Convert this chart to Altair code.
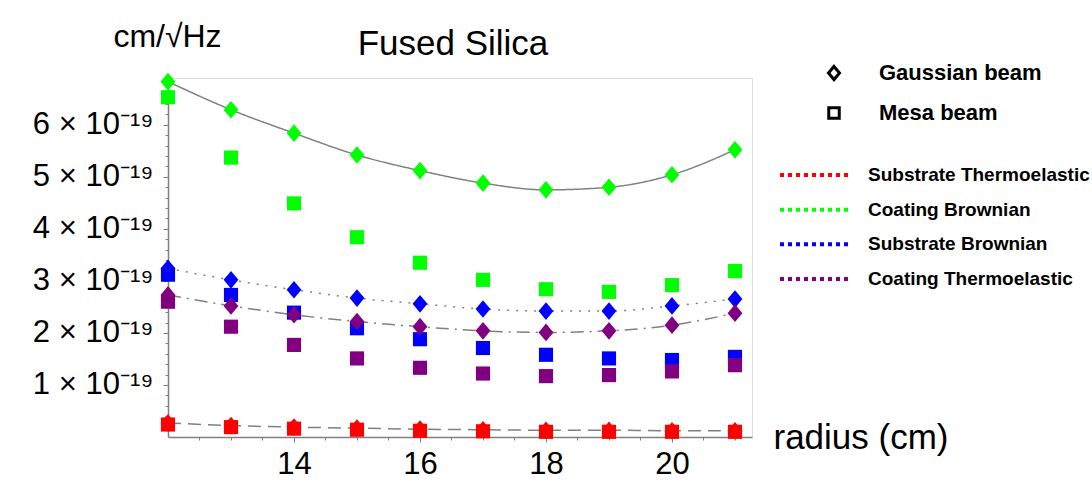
import altair as alt
import pandas as pd

# ---------------- data (noise values in units of 1e-19 cm/sqrt(Hz)) ----------------
radius = [12, 13, 14, 15, 16, 17, 18, 19, 20, 21]

components = ["Substrate Thermoelastic", "Coating Brownian",
              "Substrate Brownian", "Coating Thermoelastic"]
component_colors = ["#FF0000", "#00FF00", "#0000FF", "#800080"]
beams = ["Gaussian beam", "Mesa beam"]

sub_thermo_gauss = [0.27, 0.22, 0.19, 0.17, 0.15, 0.14, 0.13, 0.13, 0.12, 0.12]
sub_thermo_mesa = [0.24, 0.19, 0.16, 0.14, 0.12, 0.11, 0.10, 0.10, 0.10, 0.10]
coat_brown_gauss = [6.83, 6.29, 5.84, 5.42, 5.12, 4.88, 4.75, 4.80, 5.04, 5.52]
coat_brown_mesa = [6.53, 5.37, 4.49, 3.84, 3.35, 3.02, 2.84, 2.79, 2.92, 3.19]
sub_brown_gauss = [3.24, 3.02, 2.83, 2.67, 2.56, 2.46, 2.42, 2.42, 2.52, 2.65]
sub_brown_mesa = [3.12, 2.73, 2.39, 2.09, 1.88, 1.71, 1.58, 1.51, 1.48, 1.54]
coat_thermo_gauss = [2.73, 2.52, 2.35, 2.22, 2.12, 2.04, 2.01, 2.04, 2.15, 2.38]
coat_thermo_mesa = [2.60, 2.12, 1.77, 1.51, 1.33, 1.22, 1.17, 1.19, 1.26, 1.38]

x_major = [14, 16, 18, 20]
x_minor = [12.5, 13, 13.5, 14.5, 15, 15.5, 16.5, 17, 17.5, 18.5, 19, 19.5, 20.5, 21]
y_major = [1, 2, 3, 4, 5, 6]
y_minor = [0.2, 0.4, 0.6, 0.8, 1.2, 1.4, 1.6, 1.8, 2.2, 2.4, 2.6, 2.8, 3.2, 3.4, 3.6,
           3.8, 4.2, 4.4, 4.6, 4.8, 5.2, 5.4, 5.6, 5.8, 6.2, 6.4, 6.6, 6.8]

series = {
    ("Mesa beam", "Substrate Thermoelastic"): sub_thermo_mesa,
    ("Mesa beam", "Coating Brownian"): coat_brown_mesa,
    ("Mesa beam", "Substrate Brownian"): sub_brown_mesa,
    ("Mesa beam", "Coating Thermoelastic"): coat_thermo_mesa,
    ("Gaussian beam", "Substrate Thermoelastic"): sub_thermo_gauss,
    ("Gaussian beam", "Coating Brownian"): coat_brown_gauss,
    ("Gaussian beam", "Substrate Brownian"): sub_brown_gauss,
    ("Gaussian beam", "Coating Thermoelastic"): coat_thermo_gauss,
}

rows = []
k = 0
for (beam, comp), vals in series.items():
    for r, v in zip(radius, vals):
        rows.append({"radius": r, "noise": v, "component": comp, "beam": beam, "draw": k})
        k += 1
df = pd.DataFrame(rows)
legend_df = pd.DataFrame({"component": components})

FONT = "Liberation Sans"
GRAY = "#808080"
diamond_path = "M0,-1.25L1.05,0L0,1.25L-1.05,0Z"

x_scale = alt.Scale(domain=[12, 21.27], nice=False, zero=False)
y_scale = alt.Scale(domain=[0, 6.9], nice=False, zero=True)
color_scale = alt.Scale(domain=components, range=component_colors)

base = alt.Chart(df)

# gray fit curves through the Gaussian-beam points (carry the minor-tick axes)
lines = base.transform_filter(alt.datum.beam == "Gaussian beam").mark_line(
    color=GRAY, strokeWidth=1.5, interpolate="monotone"
).encode(
    x=alt.X("radius:Q", scale=x_scale,
            axis=alt.Axis(values=x_minor, labels=False, domain=False, tickSize=3,
                          title=None, grid=False, orient="bottom", tickColor=GRAY)),
    y=alt.Y("noise:Q", scale=y_scale,
            axis=alt.Axis(values=y_minor, labels=False, domain=False, tickSize=3,
                          title=None, grid=False, orient="left", tickColor=GRAY)),
    detail="component:N",
    strokeDash=alt.StrokeDash(
        "component:N",
        scale=alt.Scale(domain=components,
                        range=[[13, 7], [1, 0], [2, 7], [13, 6, 2, 6]]),
        legend=None),
)

points = base.mark_point(filled=True, opacity=1, size=200, strokeWidth=0).encode(
    x=alt.X("radius:Q", scale=x_scale,
            axis=alt.Axis(values=x_major, title="radius (cm)", grid=False,
                          labelFontSize=31, labelFont=FONT, labelColor="black",
                          labelPadding=7, tickSize=5, tickColor=GRAY,
                          domainColor=GRAY, domainWidth=1.5,
                          titleFont=FONT, titleFontSize=35, titleFontWeight="normal",
                          titleColor="black", titleX=605, titleY=0,
                          titleAlign="left", titleBaseline="middle", orient="bottom")),
    y=alt.Y("noise:Q", scale=y_scale,
            axis=alt.Axis(values=y_major, title="cm/√Hz", grid=False,
                          labelExpr="format(datum.value, 'd') + ' × 10⁻¹⁹'",
                          labelFontSize=31, labelFont=FONT, labelColor="black",
                          labelPadding=10, tickSize=5, tickColor=GRAY,
                          domainColor=GRAY, domainWidth=1.5,
                          titleFont=FONT, titleFontSize=32, titleFontWeight="normal",
                          titleColor="black", titleAngle=0, titleX=-1, titleY=-42,
                          titleAlign="center", titleBaseline="middle", orient="left")),
    color=alt.Color("component:N", scale=color_scale, legend=None),
    shape=alt.Shape(
        "beam:N",
        scale=alt.Scale(domain=beams, range=[diamond_path, "square"]),
        legend=alt.Legend(
            orient="none", legendX=655, legendY=-16, title=None,
            symbolSize=110, symbolFillColor="white", symbolStrokeColor="black",
            symbolStrokeWidth=3, labelFont=FONT, labelFontSize=22,
            labelFontWeight="bold", labelColor="black", labelLimit=400,
            labelOffset=34, rowPadding=15,
        ),
    ),
    order=alt.Order("draw:Q"),
)

# dotted-line colour key to the right of the plot
key_y = alt.Y("component:N", axis=None,
              scale=alt.Scale(type="point", domain=components, range=[97, 201], padding=0))

key_lines = alt.Chart(legend_df).mark_rule(strokeWidth=4, strokeDash=[4, 4]).encode(
    x=alt.value(612), x2=alt.value(681),
    y=key_y,
    color=alt.Color("component:N", scale=color_scale, legend=None),
)

key_text = alt.Chart(legend_df).mark_text(
    align="left", baseline="middle", font=FONT, fontSize=19, fontWeight="bold",
    color="black"
).encode(
    x=alt.value(700),
    y=key_y,
    text="component:N",
)

chart = alt.layer(lines, points, key_lines, key_text).resolve_axis(
    x="independent", y="independent"
).resolve_scale(
    y="independent"
).properties(
    width=584,
    height=359,
    autosize=alt.AutoSizeParams(type="none"),
    padding={"left": 168, "top": 78, "right": 340, "bottom": 46},
    title=alt.TitleParams("Fused Silica", font=FONT, fontSize=35, fontWeight="normal",
                          color="black", anchor="middle", frame="group", dx=-7, dy=46),
).configure_view(stroke=None).configure(background="white")

chart.save("out.html", embed_options={"renderer": "svg", "actions": False})
